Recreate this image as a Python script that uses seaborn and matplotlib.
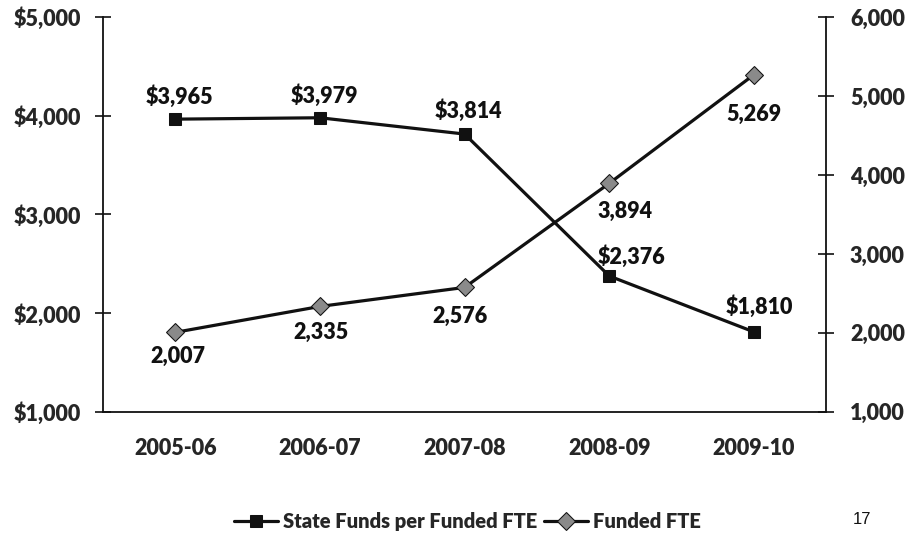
import pandas as pd
import matplotlib
matplotlib.use("Agg")
import matplotlib.pyplot as plt
import seaborn as sns
from matplotlib.ticker import FuncFormatter, FixedLocator

# Data
years = ["2005-06", "2006-07", "2007-08", "2008-09", "2009-10"]
funds_per_fte = [3965, 3979, 3814, 2376, 1810]
funded_fte = [2007, 2335, 2576, 3894, 5269]

sns.set_style("white")
plt.rcParams['font.family'] = ['Lato', 'DejaVu Sans']
plt.rcParams['font.weight'] = 'heavy'

df = pd.DataFrame({"year": years, "funds": funds_per_fte, "fte": funded_fte})
df["pos"] = range(len(years))

fig = plt.figure(figsize=(9.11, 5.47), dpi=100)
ax = fig.add_axes([0.113, 0.247, 0.794, 0.722])
ax2 = ax.twinx()

ink = "#111111"
sns.lineplot(data=df, x="pos", y="funds", ax=ax, color=ink, lw=2.3,
             marker="s", markersize=9, markerfacecolor=ink, markeredgecolor=ink,
             label="State Funds per Funded FTE", legend=False)
sns.lineplot(data=df, x="pos", y="fte", ax=ax2, color=ink, lw=2.3,
             marker="D", markersize=9, markerfacecolor="#8a8a8a", markeredgecolor=ink,
             label="Funded FTE", legend=False)

fs = 15.5
ax.set_xlim(-0.5, len(years) - 0.5)
ax.set_ylim(1000, 5000)
ax2.set_ylim(1000, 6000)
ax.set_yticks([1000, 2000, 3000, 4000, 5000])
ax2.set_yticks([1000, 2000, 3000, 4000, 5000, 6000])
ax.yaxis.set_major_formatter(FuncFormatter(lambda v, p: f"${v:,.0f}"))
ax2.yaxis.set_major_formatter(FuncFormatter(lambda v, p: f"{v:,.0f}"))

ax.set_xticks(range(len(years)))
ax.set_xticklabels(years)
ax.xaxis.set_minor_locator(FixedLocator([i - 0.5 for i in range(len(years) + 1)]))
ax.tick_params(axis="x", which="major", length=0, pad=19, labelsize=fs)
ax.tick_params(axis="x", which="minor", length=12, width=1.2, direction="inout", color=ink)
ax.tick_params(axis="y", length=12, width=1.2, direction="inout", pad=10, labelsize=fs, color=ink)
ax2.tick_params(axis="y", length=12, width=1.2, direction="inout", pad=11, labelsize=fs, color=ink)
ax.set_xlabel("")
ax.set_ylabel("")
ax2.set_ylabel("")

for a in (ax, ax2):
    a.spines["top"].set_visible(False)
    for s in ("left", "right", "bottom"):
        a.spines[s].set_color(ink)
        a.spines[s].set_linewidth(1.3)
    a.grid(False)
ax.spines["right"].set_visible(False)
ax2.spines["left"].set_visible(False)
ax2.spines["bottom"].set_visible(False)

# data labels
funds_off = [(3, 8), (3, 8), (3, 9), (16, 6), (4, 10)]
for i, v in enumerate(funds_per_fte):
    ax.annotate(f"${v:,}", (i, v), xytext=funds_off[i], textcoords="offset points",
                ha="center", va="bottom", fontsize=fs, color=ink)
fte_off = [(2, -10), (1, -11), (-3, -13), (11, -13), (0, -21)]
for i, v in enumerate(funded_fte):
    ax2.annotate(f"{v:,}", (i, v), xytext=fte_off[i], textcoords="offset points",
                 ha="center", va="top", fontsize=fs, color=ink)

h1, l1 = ax.get_legend_handles_labels()
h2, l2 = ax2.get_legend_handles_labels()
fig.legend(h1 + h2, l1 + l2, loc="center", bbox_to_anchor=(0.513, 0.046), ncol=2,
           frameon=False, prop={"size": 14.5, "weight": "heavy"},
           handlelength=2.2, handletextpad=0.25, columnspacing=0.3)

fig.text(0.946, 0.05, "17", fontsize=12, fontweight="normal",
         family=["Liberation Sans"], ha="center", va="center", color=ink)

fig.savefig("out.png", dpi=100)
